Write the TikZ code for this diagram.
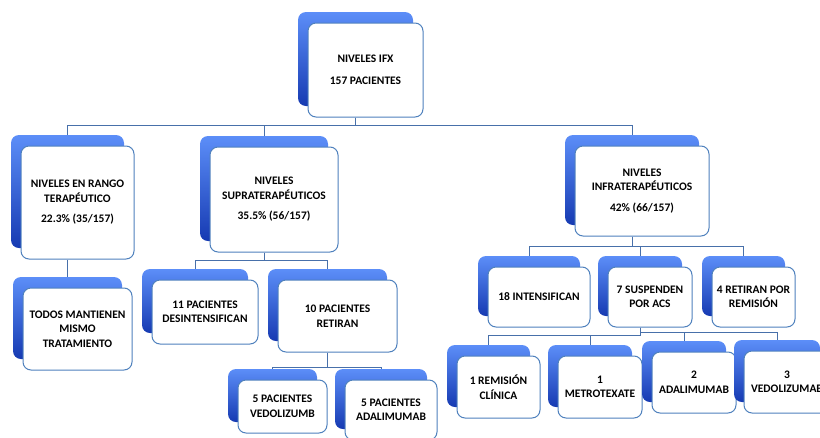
\documentclass[tikz,border=0pt]{standalone}
\usepackage{fontspec}
\setmainfont{Carlito}
\usetikzlibrary{positioning, shadows}

\definecolor{boxline}{RGB}{79,129,189}
\definecolor{linkblue}{RGB}{72,112,170}
\definecolor{backtop}{RGB}{92,142,248}
\definecolor{backbot}{RGB}{22,58,178}

\begin{document}
\begin{tikzpicture}[
            x=1pt, y=-1pt,
            box/.style={draw=boxline, line width=1pt, fill=white, rounded corners=8pt, align=center, inner sep=2pt,
                font=\fontsize{11.5}{14.5}\selectfont\bfseries,
                general shadow={shadow xshift=-10pt, shadow yshift=11pt, top color=backtop, bottom color=backbot}},
            link/.style={draw=linkblue, line width=1pt}
        ]
            \clip (0,0) rectangle (820,437);
            \node[box, minimum width=115pt, minimum height=94pt] (ifx) at (365.5,70) {NIVELES IFX\\[7pt]157 PACIENTES};
            \node[box, minimum width=113pt, minimum height=113pt] (rango) at (77.5,202.5) {NIVELES EN RANGO\\TERAPÉUTICO\\[6pt]22.3\% (35/157)};
\node[box, minimum width=128pt, minimum height=105pt] (supra) at (274,199.5) {NIVELES\\SUPRATERAPÉUTICOS\\[6pt]35.5\% (56/157)};
            \node[box, minimum width=134pt, minimum height=90pt] (infra) at (642,191) {NIVELES\\INFRATERAPÉUTICOS\\[6pt]42\% (66/157)};
            \node[box, minimum width=109pt, minimum height=82pt] (todos) at (77.5,329) {TODOS MANTIENEN\\MISMO\\TRATAMIENTO};
            \node[box, minimum width=106pt, minimum height=64pt] (desint) at (205,312) {11 PACIENTES\\DESINTENSIFICAN};
            \node[box, minimum width=119pt, minimum height=72pt] (retiran) at (337.5,316) {10 PACIENTES\\RETIRAN};
\node[box, minimum width=89pt, minimum height=53pt] (vedoA) at (282.5,406.5) {5 PACIENTES\\VEDOLIZUMB};
            \node[box, minimum width=92pt, minimum height=60pt] (adaliA) at (391,410) {5 PACIENTES\\ADALIMUMAB};
            \node[box, minimum width=102pt, minimum height=60pt] (intens) at (539,297) {18 INTENSIFICAN};
            \node[box, minimum width=84pt, minimum height=60pt] (suspende) at (650,297) {7 SUSPENDEN\\POR ACS};
            \node[box, minimum width=83pt, minimum height=60pt] (remite) at (753.5,297) {4 RETIRAN POR\\REMISIÓN};
            \node[box, minimum width=83pt, minimum height=62pt] (clinica) at (498.5,387) {1 REMISIÓN\\CLÍNICA};
            \node[box, minimum width=84pt, minimum height=62pt] (metro) at (600,387) {1\\METROTEXATE};
\node[box, minimum width=84pt, minimum height=61pt] (adaliB) at (694,382.5) {2\\ADALIMUMAB};
            \node[box, minimum width=86pt, minimum height=62pt] (vedoB) at (787,382) {3\\VEDOLIZUMAB};
            \draw[link] ([xshift=-10pt]ifx.south) -- ++(0,8) -| ([shift={(-10pt,11pt)}]rango.north);
            \draw[link] ([xshift=-10pt]ifx.south) -- ++(0,8) -| ([shift={(-10pt,11pt)}]supra.north);
            \draw[link] ([xshift=-10pt]ifx.south) -- ++(0,8) -| ([shift={(-10pt,11pt)}]infra.north);
            \draw[link] ([xshift=-10pt]rango.south) -- ([shift={(-10pt,11pt)}]todos.north);
            \draw[link] ([xshift=-10pt]supra.south) -- ++(0,8) -| ([shift={(-10pt,11pt)}]desint.north);
\draw[link] ([xshift=-10pt]supra.south) -- ++(0,8) -| ([shift={(-10pt,11pt)}]retiran.north);
            \draw[link] ([xshift=-10pt]retiran.south) -- ++(0,15) -| ([shift={(-10pt,11pt)}]vedoA.north);
            \draw[link] ([xshift=-10pt]retiran.south) -- ++(0,15) -| ([shift={(-10pt,11pt)}]adaliA.north);
            \draw[link] ([xshift=-10pt]infra.south) -- ++(0,10) -| ([shift={(-10pt,11pt)}]intens.north);
            \draw[link] ([xshift=-10pt]infra.south) -- ++(0,10) -| ([shift={(-10pt,11pt)}]suspende.north);
            \draw[link] ([xshift=-10pt]infra.south) -- ++(0,10) -| ([shift={(-10pt,11pt)}]remite.north);
            \draw[link] ([xshift=-10pt]suspende.south) -- ++(0,8) -| ([shift={(-10pt,11pt)}]clinica.north);
            \draw[link] ([xshift=-10pt]suspende.south) -- ++(0,8) -| ([shift={(-10pt,11pt)}]metro.north);
\draw[link] ([xshift=-10pt]suspende.south) -- ++(0,5) -| ([shift={(-10pt,11pt)}]adaliB.north);
            \draw[link] ([xshift=-10pt]suspende.south) -- ++(0,5) -| ([shift={(-10pt,11pt)}]vedoB.north);
        \end{tikzpicture}
\end{document}
